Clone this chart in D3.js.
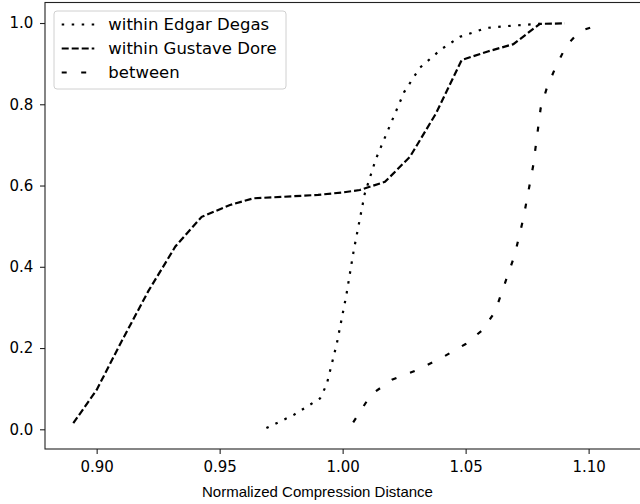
<!DOCTYPE html>
<html>
<head>
<meta charset="utf-8">
<script src="https://cdn.jsdelivr.net/npm/d3@7"></script>
<style>
  body { margin: 0; background: #fff; }
  .tick text { font-family: "DejaVu Sans", sans-serif; font-size: 15px; fill: #000; }
  .legend text { font-family: "DejaVu Sans", sans-serif; font-size: 16.5px; fill: #000; }
  .xlabel { font-family: "Liberation Sans", Arial, sans-serif; font-size: 15px; fill: #000; }
</style>
</head>
<body>
<svg id="chart"></svg>
<script>
// series names (legend order)
var seriesNames = ["within Edgar Degas", "within Gustave Dore", "between"];

// within Edgar Degas (dotted)
var degasX = [0.969, 0.980, 0.9908, 0.9935, 0.9976, 1.0015, 1.0045, 1.009, 1.0135, 1.018, 1.025, 1.0314, 1.040, 1.0477, 1.0585, 1.070, 1.0802];
var degasY = [0.003, 0.035, 0.076, 0.11, 0.21, 0.33, 0.44, 0.58, 0.665, 0.73, 0.83, 0.89, 0.935, 0.966, 0.988, 0.994, 0.998];

// within Gustave Dore (dashed)
var doreX = [0.8905, 0.900, 0.910, 0.921, 0.932, 0.9427, 0.9542, 0.9637, 0.975, 0.990, 1.000, 1.007, 1.0172, 1.0274, 1.038, 1.0484, 1.059, 1.0694, 1.0802, 1.0904];
var doreY = [0.015, 0.097, 0.215, 0.34, 0.45, 0.523, 0.552, 0.5685, 0.572, 0.577, 0.583, 0.589, 0.609, 0.671, 0.778, 0.909, 0.93, 0.948, 0.998, 0.999];

// between (loose dashes)
var betweenX = [1.0043, 1.0115, 1.020, 1.030, 1.040, 1.050, 1.057, 1.062, 1.066, 1.070, 1.0735, 1.0775, 1.0805, 1.083, 1.0865, 1.091, 1.0965, 1.1053];
var betweenY = [0.017, 0.085, 0.122, 0.145, 0.175, 0.21, 0.245, 0.29, 0.36, 0.43, 0.52, 0.65, 0.79, 0.84, 0.89, 0.945, 0.98, 0.998];

var xTicks = [0.90, 0.95, 1.00, 1.05, 1.10];
var yTicks = [0.0, 0.2, 0.4, 0.6, 0.8, 1.0];
var xLabel = "Normalized Compression Distance";

var W = 640, H = 504;
var margin = {top: 2.5, left: 45, bottom: 55};

var svg = d3.select("#chart")
    .attr("width", W)
    .attr("height", H);

var x = d3.scaleLinear().domain([0.879, 1.1217]).range([margin.left, 642]);
var y = d3.scaleLinear().domain([-0.0485, 1.0505]).range([H - margin.bottom, margin.top]);

var styles = [
    {dash: "2.5,7.5"},
    {dash: "7,3"},
    {dash: "5,14.5"}
];

var series = [
    d3.zip(degasX, degasY),
    d3.zip(doreX, doreY),
    d3.zip(betweenX, betweenY)
];

var line = d3.line()
    .x(function (d) { return x(d[0]); })
    .y(function (d) { return y(d[1]); });

// lines
series.forEach(function (s, i) {
    svg.append("path")
        .datum(s)
        .attr("fill", "none")
        .attr("stroke", "#000")
        .attr("stroke-width", 2.2)
        .attr("stroke-dasharray", styles[i].dash)
        .attr("d", line);
});

// axes
var xAxis = d3.axisBottom(x).tickValues(xTicks).tickFormat(d3.format(".2f")).tickSize(5).tickPadding(7);
var yAxis = d3.axisLeft(y).tickValues(yTicks).tickFormat(d3.format(".1f")).tickSize(5).tickPadding(6.7);

var gx = svg.append("g")
    .attr("transform", "translate(0," + (H - margin.bottom) + ")")
    .call(xAxis);
var gy = svg.append("g")
    .attr("transform", "translate(" + margin.left + ",0)")
    .call(yAxis);

[gx, gy].forEach(function (g) {
    g.select(".domain").remove();
    g.selectAll(".tick line").attr("stroke", "#222").attr("stroke-width", 1.1);
    g.selectAll(".tick text").attr("font-family", null).attr("font-size", null);
});
gx.attr("font-family", null).attr("font-size", null);
gy.attr("font-family", null).attr("font-size", null);

// spines
svg.append("rect")
    .attr("x", margin.left)
    .attr("y", margin.top)
    .attr("width", 642 - margin.left)
    .attr("height", H - margin.bottom - margin.top)
    .attr("fill", "none")
    .attr("stroke", "#222")
    .attr("stroke-width", 1.1);

// x label
svg.append("text")
    .attr("class", "xlabel")
    .attr("x", 317.5)
    .attr("y", 497)
    .attr("text-anchor", "middle")
    .text(xLabel);

// legend
var legend = svg.append("g").attr("class", "legend");
legend.append("rect")
    .attr("x", 54)
    .attr("y", 11)
    .attr("width", 232)
    .attr("height", 78)
    .attr("rx", 3)
    .attr("fill", "#fff")
    .attr("fill-opacity", 0.8)
    .attr("stroke", "#d0d0d0")
    .attr("stroke-width", 1);

seriesNames.forEach(function (name, i) {
    var ly = 24.5 + i * 24;
    legend.append("line")
        .attr("x1", 61.7).attr("x2", 94.3)
        .attr("y1", ly).attr("y2", ly)
        .attr("stroke", "#000")
        .attr("stroke-width", 2.2)
        .attr("stroke-dasharray", styles[i].dash);
    legend.append("text")
        .attr("x", 108.3)
        .attr("y", ly)
        .attr("dy", "0.36em")
        .text(name);
});
</script>
</body>
</html>
